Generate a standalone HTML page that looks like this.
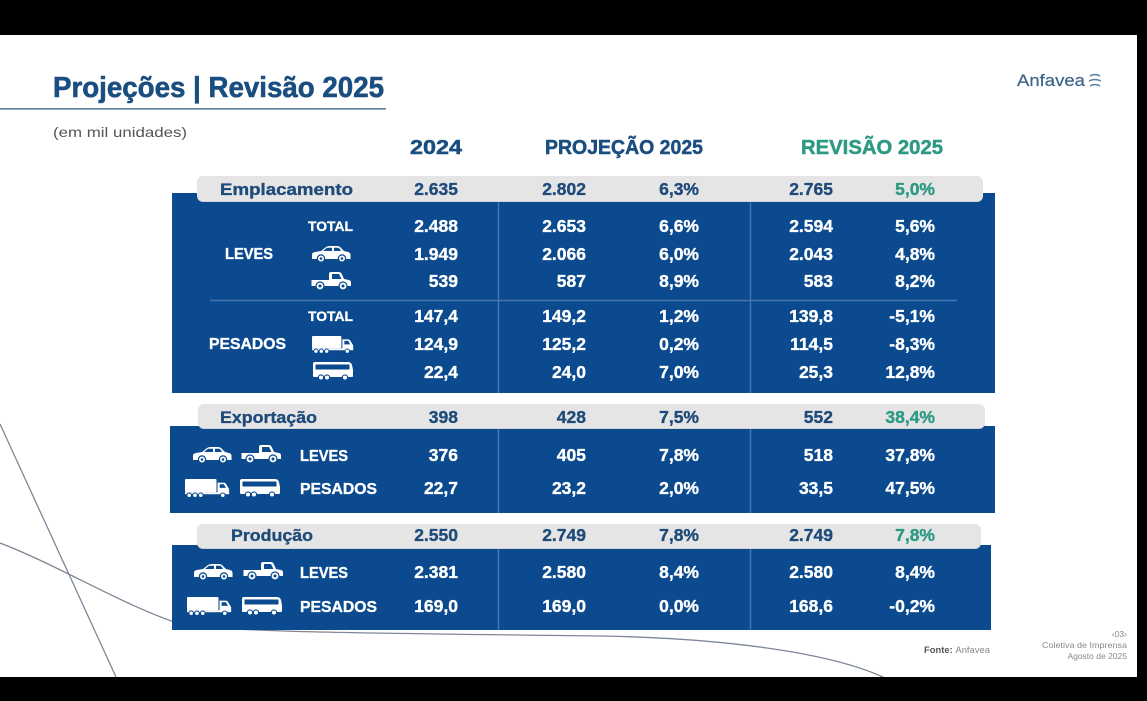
<!DOCTYPE html>
<html>
<head>
<meta charset="utf-8">
<style>
  html,body{margin:0;padding:0;background:#000;}
  svg{display:block;}
  text{font-family:"Liberation Sans",sans-serif;font-weight:bold;}
  .w{fill:#ffffff;stroke:#ffffff;stroke-width:0.35px;font-size:17.5px;text-anchor:end;}
  .g{fill:#1f4b7a;stroke:#1f4b7a;stroke-width:0.35px;font-size:17.5px;text-anchor:end;}
  .t{fill:#2e9a84;stroke:#2e9a84;stroke-width:0.35px;font-size:17.5px;text-anchor:end;}
  .lb{fill:#ffffff;stroke:#ffffff;stroke-width:0.35px;font-size:16px;}
  .tot{fill:#ffffff;stroke:#ffffff;stroke-width:0.3px;font-size:13.5px;}
  .gl{fill:#1f4b7a;stroke:#1f4b7a;stroke-width:0.35px;font-size:17px;}
  .hd{stroke-width:0.5px;}
</style>
</head>
<body>
<svg width="1147" height="701" viewBox="0 0 1147 701" xmlns="http://www.w3.org/2000/svg">
  <defs>
    <g id="car">
      <path d="M1,14 L1,9.5 Q1,7.5 4,7 L10,6 L15,2 Q16.5,1 19,1 L26,1 Q28.5,1 30.5,3.5 L33,6 L37,7 Q39.5,7.5 39.5,10 L39.5,14 Z" fill="#fff"/>
      <path d="M12,6 L16,2.8 L21,2.8 L21,6 Z M23,6 L23,2.8 L27,2.8 Q28.5,3 30,6 Z" fill="#0b4a8f"/>
      <circle cx="10" cy="13.5" r="3.6" fill="#fff" stroke="#0b4a8f" stroke-width="1.2"/>
      <circle cx="10" cy="13.5" r="1.3" fill="#0b4a8f"/>
      <circle cx="31" cy="13.5" r="3.6" fill="#fff" stroke="#0b4a8f" stroke-width="1.2"/>
      <circle cx="31" cy="13.5" r="1.3" fill="#0b4a8f"/>
    </g>
    <g id="pickup">
      <path d="M0.5,9 L18,9 L18,3 Q18,1 20,1 L28,1 Q29.5,1 30.5,2.5 L33,8 L38,9 Q40,9.5 40,11.5 L40,15 L0.5,15 Z" fill="#fff"/>
      <path d="M21,3 L28,3 L30.5,8 L21,8 Z" fill="#0b4a8f"/>
      <circle cx="9" cy="15" r="4" fill="#fff" stroke="#0b4a8f" stroke-width="1.2"/>
      <circle cx="9" cy="15" r="1.5" fill="#0b4a8f"/>
      <circle cx="32" cy="15" r="4" fill="#fff" stroke="#0b4a8f" stroke-width="1.2"/>
      <circle cx="32" cy="15" r="1.5" fill="#0b4a8f"/>
    </g>
    <g id="truck">
      <rect x="0" y="0" width="30" height="12.5" rx="1" fill="#fff"/>
      <path d="M31,3.5 L37,3.5 Q38.5,3.5 39.5,5.5 L42,9.5 L42,14 L31,14 Z" fill="#fff"/>
      <path d="M33,5 L37,5 L39,8.5 L33,8.5 Z" fill="#0b4a8f"/>
      <rect x="0" y="12.5" width="42" height="2" fill="#fff"/>
      <circle cx="4" cy="15.5" r="2.2" fill="#fff" stroke="#0b4a8f" stroke-width="1"/>
      <circle cx="9.5" cy="15.5" r="2.2" fill="#fff" stroke="#0b4a8f" stroke-width="1"/>
      <circle cx="15" cy="15.5" r="2.2" fill="#fff" stroke="#0b4a8f" stroke-width="1"/>
      <circle cx="36" cy="15.5" r="2.2" fill="#fff" stroke="#0b4a8f" stroke-width="1"/>
    </g>
    <g id="bus">
      <path d="M2,0 L35,0 Q38,0 39,3 L40,8 L40,14 Q40,15 39,15 L1,15 Q0,15 0,14 L0,2 Q0,0 2,0 Z" fill="#fff"/>
      <rect x="2.5" y="2.5" width="34" height="5" fill="#0b4a8f"/>
      <circle cx="8" cy="15.5" r="2.6" fill="#fff" stroke="#0b4a8f" stroke-width="1.1"/>
      <circle cx="14" cy="15.5" r="2.6" fill="#fff" stroke="#0b4a8f" stroke-width="1.1"/>
      <circle cx="32" cy="15.5" r="2.6" fill="#fff" stroke="#0b4a8f" stroke-width="1.1"/>
    </g>
  </defs>

  <!-- slide background -->
  <rect x="0" y="35" width="1137" height="642" fill="#ffffff"/>

  <!-- decorative lines -->
  <path d="M0,424 L116,677" fill="none" stroke="#7d8798" stroke-width="1.3"/>
  <path d="M0,543 C60,566 120,604 180,624 C230,632 350,633 600,636 C720,638 830,652 885,678" fill="none" stroke="#7d8798" stroke-width="1.3"/>

  <!-- title -->
  <text x="53" y="97" font-size="29" fill="#1b4e80" stroke="#1b4e80" stroke-width="0.6" textLength="331" lengthAdjust="spacingAndGlyphs">Projeções | Revisão 2025</text>
  <rect x="0" y="108" width="386" height="1.6" fill="#5d7e9e"/>
  <text x="53" y="137" font-size="14" fill="#555555" style="font-weight:normal" textLength="134" lengthAdjust="spacingAndGlyphs">(em mil unidades)</text>

  <!-- logo -->
  <text x="1017" y="86" font-size="17" fill="#3a6489" stroke="#3a6489" stroke-width="0.2" style="font-weight:normal" textLength="68" lengthAdjust="spacingAndGlyphs">Anfavea</text>
  <path d="M1090,76 q5,-3 10,0 M1089,81 q6,-3 12,0 M1090,86 q5,-3 10,0" fill="none" stroke="#5a7ea0" stroke-width="1.4"/>

  <!-- column headers -->
  <text x="410" y="154" font-size="20" fill="#1b4e80" stroke="#1b4e80" stroke-width="0.5" textLength="52" lengthAdjust="spacingAndGlyphs">2024</text>
  <text x="545" y="154" font-size="20" fill="#1b4e80" stroke="#1b4e80" stroke-width="0.5" textLength="158" lengthAdjust="spacingAndGlyphs">PROJEÇÃO 2025</text>
  <text x="801" y="154" font-size="20" fill="#2e9a84" stroke="#2e9a84" stroke-width="0.5" textLength="142" lengthAdjust="spacingAndGlyphs">REVISÃO 2025</text>

  <!-- ===== Emplacamento ===== -->
  <rect x="172" y="193" width="823" height="200" fill="#0b4a8f"/>
  <rect x="197" y="177" width="786" height="25" rx="6" fill="#d2d2d2"/>
  <rect x="197" y="176" width="786" height="25" rx="6" fill="#e5e5e5"/>
  <line x1="498.5" y1="202" x2="498.5" y2="393" stroke="#4676b0" stroke-width="1.4"/>
  <line x1="750.5" y1="202" x2="750.5" y2="393" stroke="#4676b0" stroke-width="1.4"/>
  <line x1="210" y1="300.5" x2="957" y2="300.5" stroke="#4676b0" stroke-width="1.4"/>

  <text class="gl" x="220" y="195" textLength="133" lengthAdjust="spacingAndGlyphs">Emplacamento</text>
  <text class="g" x="458" y="195">2.635</text>
  <text class="g" x="586" y="195">2.802</text>
  <text class="g" x="699" y="195">6,3%</text>
  <text class="g" x="833" y="195">2.765</text>
  <text class="t" x="935" y="195">5,0%</text>

  <text class="lb" x="225" y="259" textLength="48" lengthAdjust="spacingAndGlyphs">LEVES</text>
  <text class="lb" x="209" y="349" textLength="77" lengthAdjust="spacingAndGlyphs">PESADOS</text>
  <text class="tot" x="308" y="231" textLength="45" lengthAdjust="spacingAndGlyphs">TOTAL</text>
  <text class="tot" x="308" y="321" textLength="45" lengthAdjust="spacingAndGlyphs">TOTAL</text>
  <use href="#car" transform="translate(311,245)"/>
  <use href="#pickup" transform="translate(311,271)"/>
  <use href="#truck" transform="translate(312,336) scale(0.98)"/>
  <use href="#bus" transform="translate(313,362)"/>

  <text class="w" x="458" y="232">2.488</text><text class="w" x="586" y="232">2.653</text><text class="w" x="699" y="232">6,6%</text><text class="w" x="833" y="232">2.594</text><text class="w" x="935" y="232">5,6%</text>
  <text class="w" x="458" y="260">1.949</text><text class="w" x="586" y="260">2.066</text><text class="w" x="699" y="260">6,0%</text><text class="w" x="833" y="260">2.043</text><text class="w" x="935" y="260">4,8%</text>
  <text class="w" x="458" y="287">539</text><text class="w" x="586" y="287">587</text><text class="w" x="699" y="287">8,9%</text><text class="w" x="833" y="287">583</text><text class="w" x="935" y="287">8,2%</text>
  <text class="w" x="458" y="322">147,4</text><text class="w" x="586" y="322">149,2</text><text class="w" x="699" y="322">1,2%</text><text class="w" x="833" y="322">139,8</text><text class="w" x="935" y="322">-5,1%</text>
  <text class="w" x="458" y="350">124,9</text><text class="w" x="586" y="350">125,2</text><text class="w" x="699" y="350">0,2%</text><text class="w" x="833" y="350">114,5</text><text class="w" x="935" y="350">-8,3%</text>
  <text class="w" x="458" y="378">22,4</text><text class="w" x="586" y="378">24,0</text><text class="w" x="699" y="378">7,0%</text><text class="w" x="833" y="378">25,3</text><text class="w" x="935" y="378">12,8%</text>

  <!-- ===== Exportação ===== -->
  <rect x="170" y="426" width="825" height="87" fill="#0b4a8f"/>
  <rect x="198" y="405" width="787" height="24" rx="6" fill="#d2d2d2"/>
  <rect x="198" y="404" width="787" height="24" rx="6" fill="#e5e5e5"/>
  <line x1="498.5" y1="429" x2="498.5" y2="513" stroke="#4676b0" stroke-width="1.4"/>
  <line x1="750.5" y1="429" x2="750.5" y2="513" stroke="#4676b0" stroke-width="1.4"/>

  <text class="gl" x="220" y="423" textLength="97" lengthAdjust="spacingAndGlyphs">Exportação</text>
  <text class="g" x="458" y="423">398</text>
  <text class="g" x="586" y="423">428</text>
  <text class="g" x="699" y="423">7,5%</text>
  <text class="g" x="833" y="423">552</text>
  <text class="t" x="935" y="423">38,4%</text>

  <use href="#car" transform="translate(192,446)"/>
  <use href="#pickup" transform="translate(241,444)"/>
  <use href="#truck" transform="translate(185,479) scale(1.05)"/>
  <use href="#bus" transform="translate(240,479)"/>
  <text class="lb" x="300" y="461" textLength="48" lengthAdjust="spacingAndGlyphs">LEVES</text>
  <text class="lb" x="300" y="494" textLength="77" lengthAdjust="spacingAndGlyphs">PESADOS</text>

  <text class="w" x="458" y="461">376</text><text class="w" x="586" y="461">405</text><text class="w" x="699" y="461">7,8%</text><text class="w" x="833" y="461">518</text><text class="w" x="935" y="461">37,8%</text>
  <text class="w" x="458" y="494">22,7</text><text class="w" x="586" y="494">23,2</text><text class="w" x="699" y="494">2,0%</text><text class="w" x="833" y="494">33,5</text><text class="w" x="935" y="494">47,5%</text>

  <!-- ===== Produção ===== -->
  <rect x="172" y="545" width="819" height="85" fill="#0b4a8f"/>
  <rect x="197" y="525" width="784" height="24" rx="6" fill="#d2d2d2"/>
  <rect x="197" y="524" width="784" height="24" rx="6" fill="#e5e5e5"/>
  <line x1="498.5" y1="549" x2="498.5" y2="630" stroke="#4676b0" stroke-width="1.4"/>
  <line x1="750.5" y1="549" x2="750.5" y2="630" stroke="#4676b0" stroke-width="1.4"/>

  <text class="gl" x="231" y="541" textLength="82" lengthAdjust="spacingAndGlyphs">Produção</text>
  <text class="g" x="458" y="541">2.550</text>
  <text class="g" x="586" y="541">2.749</text>
  <text class="g" x="699" y="541">7,8%</text>
  <text class="g" x="833" y="541">2.749</text>
  <text class="t" x="935" y="541">7,8%</text>

  <use href="#car" transform="translate(193,563)"/>
  <use href="#pickup" transform="translate(243,561)"/>
  <use href="#truck" transform="translate(187,597) scale(1.05)"/>
  <use href="#bus" transform="translate(242,597)"/>
  <text class="lb" x="300" y="578" textLength="48" lengthAdjust="spacingAndGlyphs">LEVES</text>
  <text class="lb" x="300" y="612" textLength="77" lengthAdjust="spacingAndGlyphs">PESADOS</text>

  <text class="w" x="458" y="578">2.381</text><text class="w" x="586" y="578">2.580</text><text class="w" x="699" y="578">8,4%</text><text class="w" x="833" y="578">2.580</text><text class="w" x="935" y="578">8,4%</text>
  <text class="w" x="458" y="612">169,0</text><text class="w" x="586" y="612">169,0</text><text class="w" x="699" y="612">0,0%</text><text class="w" x="833" y="612">168,6</text><text class="w" x="935" y="612">-0,2%</text>

  <!-- footer -->
  <text x="924" y="653" font-size="9" fill="#555" textLength="66" lengthAdjust="spacingAndGlyphs">Fonte: <tspan style="font-weight:normal" fill="#888">Anfavea</tspan></text>
  <text x="1127" y="637" font-size="8.5" fill="#888" style="font-weight:normal" text-anchor="end">‹03›</text>
  <text x="1127" y="648" font-size="8.5" fill="#888" style="font-weight:normal" text-anchor="end" textLength="85" lengthAdjust="spacingAndGlyphs">Coletiva de Imprensa</text>
  <text x="1127" y="659" font-size="8.5" fill="#888" style="font-weight:normal" text-anchor="end">Agosto de 2025</text>

  <!-- black frame -->
  <rect x="0" y="0" width="1147" height="35" fill="#000"/>
  <rect x="0" y="677" width="1147" height="24" fill="#000"/>
  <rect x="1137" y="0" width="10" height="701" fill="#000"/>
</svg>
</body>
</html>
